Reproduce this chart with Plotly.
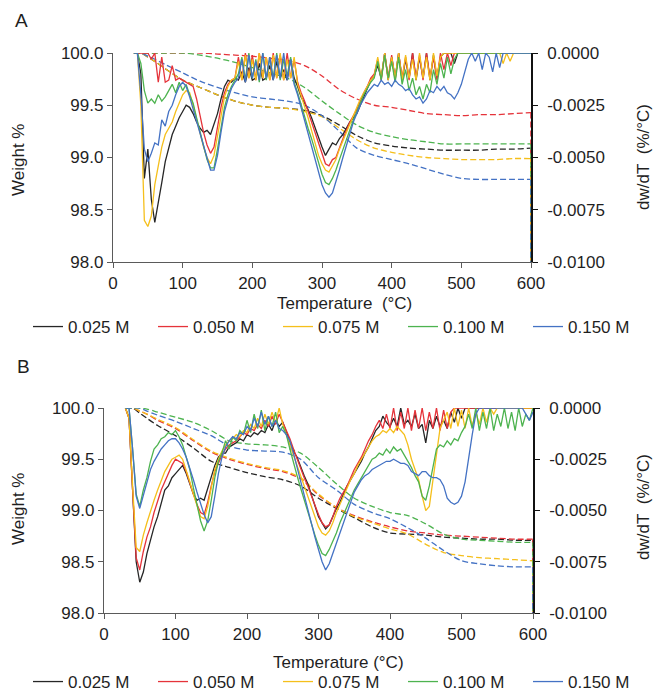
import numpy as np
import plotly.graph_objects as go

# ---------------- data ----------------
LABELS = ["0.025 M", "0.050 M", "0.075 M", "0.100 M", "0.150 M"]
COLORS = ["#262626", "#e5333a", "#f5bf1b", "#4db34f", "#4472c4"]

# temperature grid for derivative curves (°C)
T_DTG = list(range(30, 601, 5))
# temperature grid for weight curves (°C)
T_W = [30, 40, 50, 60, 75, 100, 125, 150, 175, 200, 225, 250, 275, 300, 325,
       350, 375, 400, 425, 450, 475, 500, 525, 550, 575, 600]
T_END = 600          # end of run: weight trace falls off scale
W_END = 97.0

# ---- Panel A: dw/dT in 1e-3 %/°C ----
DTG_A_025 = [0, 0, -1.0, -6.0, -4.6, -7.0, -8.1, -7.2, -6.2, -5.2,
             -4.6, -3.9, -3.5, -3.1, -2.8, -2.5, -2.6, -2.9, -3.3, -3.6,
             -3.8, -3.7, -3.9, -3.4, -2.9, -2.2, -1.6, -1.3, -1.4, -1.2,
             -1.3, -0.9, -1.4, -0.7, -1.3, -1.2, -0.5, -1.3, -1.2, -0.6,
             -1.3, -0.4, -1.2, -0.8, -1.3, -0.3, -1.2, -1.6, -2.1, -2.4,
             -2.7, -3.1, -3.6, -4.0, -4.5, -4.9, -4.6, -4.3, -4.4, -4.1,
             -3.9, -3.6, -3.3, -3.1, -2.9, -2.5, -2.1, -1.7, -1.3, -1.1,
             -0.6, -1.2, 0, -1.3, -0.2, -1.2, 0, -1.3, -0.3, -1.2,
             0, -1.3, -0.2, -1.2, 0, -1.3, -0.1, -1.2, -0.2, 0,
             0, 0, -0.5, 0, 0, 0, 0, 0, 0, 0,
             0, 0, 0, 0, 0, 0, 0, 0, 0, 0,
             0, 0, 0, 0, 0]
DTG_A_050 = [0, 0, 0, 0, 0, -0.3, 0, -1.4, -0.2, -1.4,
             -1.3, -0.6, -1.3, -1.2, -1.3, -1.4, -1.5, -1.6, -2.2, -3.0,
             -3.8, -4.4, -4.8, -4.5, -3.6, -2.6, -1.9, -1.5, -1.3, -1.2,
             -0.2, -1.3, 0, -1.2, -0.1, -1.3, 0, -1.2, -0.2, -1.3,
             0, -1.2, -0.1, -1.3, 0, -1.2, -0.3, -1.4, -1.9, -2.3,
             -2.8, -3.3, -3.8, -4.4, -4.9, -5.3, -5.4, -5.1, -5.0, -4.5,
             -4.1, -3.7, -3.3, -3.0, -2.7, -2.3, -1.9, -1.6, -1.2, -1.0,
             -0.3, -1.3, 0, -1.2, -0.1, -1.3, 0, -1.2, -0.2, -1.3,
             0, -1.2, -0.1, -1.3, 0, -1.2, -0.2, -1.3, 0, -0.8,
             0, -0.6, 0, 0, 0, 0, 0, 0, 0, 0,
             0, 0, 0, 0, 0, 0, 0, 0, 0, 0,
             0, 0, 0, 0, 0]
DTG_A_075 = [0, 0, -2.5, -8.0, -8.3, -7.8, -6.3, -5.4, -4.5, -3.9,
             -3.6, -3.3, -2.8, -2.4, -2.0, -1.8, -1.9, -2.5, -3.2, -3.9,
             -4.5, -5.0, -5.3, -4.9, -3.9, -2.9, -2.1, -1.6, -1.3, -1.2,
             -0.4, -1.3, -0.1, -1.2, -0.3, -1.3, 0, -1.2, -0.2, -1.3,
             -0.1, -1.2, 0, -1.3, -0.3, -1.2, -0.2, -1.5, -2.0, -2.6,
             -3.1, -3.7, -4.3, -4.9, -5.3, -5.6, -5.7, -5.4, -5.1, -4.6,
             -4.2, -3.8, -3.4, -3.0, -2.6, -2.2, -1.9, -1.6, -1.3, -1.1,
             -0.2, -1.2, 0, -1.3, -0.2, -1.2, 0, -1.3, -0.1, -1.2,
             -0.3, -1.3, 0, -1.2, -0.2, -1.3, 0, -1.1, -0.2, 0,
             0, 0, 0, 0, 0, 0, 0, 0, 0, 0,
             0, 0, 0, 0, 0, 0, -0.5, 0, -0.4, 0,
             0, 0, 0, 0, 0]
DTG_A_100 = [0, 0, -0.5, -1.8, -2.4, -2.2, -2.4, -2.0, -2.3, -2.1,
             -1.8, -1.5, -1.9, -1.4, -1.8, -1.5, -2.0, -2.4, -3.1, -3.8,
             -4.5, -5.1, -5.5, -5.5, -4.6, -3.5, -2.6, -2.0, -1.6, -1.3,
             -1.0, -0.2, -1.3, 0, -1.2, -0.3, -1.4, 0, -1.3, -0.2,
             -1.2, 0, -1.3, -0.3, -1.1, -0.2, -1.4, -1.9, -2.5, -3.0,
             -3.6, -4.1, -4.7, -5.3, -5.8, -6.2, -6.3, -6.0, -5.6, -5.1,
             -4.6, -4.1, -3.6, -3.2, -2.8, -2.4, -2.0, -1.7, -1.4, -1.2,
             -0.4, -1.3, -0.1, -1.2, -0.4, -1.4, -0.2, -1.5, -0.8, -1.8,
             -1.2, -2.0, -1.6, -2.2, -1.5, -1.9, -0.8, -1.5, -0.5, -1.2,
             -0.2, -1.0, -0.3, 0, 0, 0, 0, 0, 0, 0,
             0, 0, 0, 0, 0, 0, 0, 0, 0, 0,
             0, 0, 0, 0, 0]
DTG_A_150 = [0, 0, -2.0, -4.6, -5.2, -4.8, -4.3, -4.4, -3.2, -3.5,
             -2.8, -2.5, -2.0, -1.6, -1.4, -1.6, -2.1, -2.7, -3.3, -3.9,
             -4.5, -5.1, -5.6, -5.6, -4.9, -3.8, -2.8, -2.2, -1.7, -1.4,
             -1.2, -0.3, -1.4, -0.1, -1.2, -0.4, -1.3, 0, -1.2, -0.2,
             -1.3, -0.1, -1.2, 0, -1.3, -0.3, -1.5, -2.0, -2.6, -3.2,
             -3.8, -4.5, -5.1, -5.7, -6.3, -6.7, -6.9, -6.7, -6.2, -5.6,
             -5.0, -4.4, -3.8, -3.3, -2.9, -2.5, -2.2, -1.9, -1.7, -1.5,
             -1.6, -1.3, -1.5, -1.4, -1.6, -1.3, -1.5, -1.6, -1.8, -1.7,
             -2.0, -2.2, -2.1, -2.4, -2.2, -1.8, -1.9, -1.6, -1.8, -1.6,
             -1.9, -2.0, -2.2, -1.9, -1.5, -0.9, -0.3, 0, -0.4, 0,
             -0.8, 0, -0.2, -0.9, 0, -0.7, 0, 0, 0, 0,
             0, 0, 0, 0, 0]

# ---- Panel A: weight % ----
W_A_025 = [100, 100, 99.96, 99.92, 99.85, 99.74, 99.67, 99.60, 99.54, 99.50,
           99.48, 99.47, 99.45, 99.40, 99.31, 99.21, 99.14, 99.11, 99.09, 99.08,
           99.07, 99.07, 99.07, 99.08, 99.08, 99.09]
W_A_050 = [100, 100, 100, 100, 100, 100, 100, 99.99, 99.98, 99.97,
           99.95, 99.93, 99.88, 99.78, 99.65, 99.56, 99.50, 99.48, 99.45, 99.42,
           99.41, 99.40, 99.41, 99.41, 99.42, 99.43]
W_A_075 = [100, 100, 99.96, 99.92, 99.85, 99.74, 99.67, 99.60, 99.54, 99.50,
           99.48, 99.47, 99.44, 99.39, 99.28, 99.17, 99.09, 99.05, 99.02, 99.00,
           98.99, 98.98, 98.98, 98.98, 98.99, 98.99]
W_A_100 = [100, 100, 100, 100, 100, 100, 99.98, 99.95, 99.91, 99.86,
           99.81, 99.76, 99.67, 99.54, 99.42, 99.31, 99.24, 99.20, 99.17, 99.15,
           99.13, 99.13, 99.13, 99.13, 99.13, 99.13]
W_A_150 = [100, 100, 99.97, 99.94, 99.89, 99.81, 99.73, 99.67, 99.62, 99.58,
           99.56, 99.54, 99.50, 99.40, 99.25, 99.09, 99.02, 98.98, 98.94, 98.89,
           98.84, 98.80, 98.79, 98.79, 98.79, 98.79]

# ---- Panel B: dw/dT in 1e-3 %/°C ----
DTG_B_025 = [0, -0.5, -4.0, -7.5, -8.5, -8.0, -7.1, -6.4, -5.8, -5.3,
             -4.6, -4.0, -3.8, -3.4, -3.2, -3.0, -2.8, -3.2, -3.7, -4.2,
             -4.5, -4.4, -4.5, -3.9, -3.3, -2.8, -2.4, -2.2, -2.2, -1.9,
             -1.8, -1.7, -1.5, -1.6, -1.3, -1.4, -1.2, -1.3, -1.1, -1.2,
             -0.8, -1.1, -0.6, -0.9, -0.7, -1.2, -1.7, -2.1, -2.4, -2.9,
             -3.3, -3.7, -4.2, -4.7, -5.3, -5.6, -5.9, -5.7, -5.3, -4.9,
             -4.6, -4.2, -3.8, -3.5, -3.2, -2.9, -2.6, -2.2, -1.9, -1.5,
             -1.1, -0.9, -0.4, -0.7, -0.9, -0.5, -0.9, 0, -0.8, -0.6,
             -0.9, -0.3, -1.0, -0.8, -1.7, -0.6, -1.0, -0.4, -0.9, -0.6,
             -1.0, -0.2, -0.7, 0, -0.5, 0, 0, 0, 0, 0,
             0, 0, 0, 0, 0, 0, 0, 0, 0, 0,
             0, 0, 0, 0, 0]
DTG_B_050 = [0, -0.5, -4.0, -7.3, -7.9, -7.0, -6.3, -5.8, -5.1, -4.5,
             -4.0, -3.6, -3.2, -2.8, -2.5, -2.6, -2.7, -3.1, -3.7, -4.2,
             -4.7, -5.1, -5.2, -4.6, -3.8, -3.1, -2.7, -2.3, -2.0, -1.8,
             -1.7, -1.6, -1.4, -1.2, -1.3, -1.0, -1.1, -0.8, -1.0, -0.6,
             -0.9, -0.4, -0.8, -0.3, -0.7, -1.1, -1.5, -2.0, -2.5, -3.0,
             -3.4, -3.8, -4.3, -4.8, -5.2, -5.6, -5.8, -5.7, -5.3, -4.8,
             -4.4, -4.1, -3.8, -3.4, -3.0, -2.7, -2.4, -2.0, -1.6, -1.3,
             -0.9, -0.6, -1.0, -0.3, -1.0, 0, -1.1, -0.2, -1.0, 0,
             -1.1, -0.1, -1.0, 0, -1.1, -0.2, -1.0, 0, -1.1, -0.1,
             -1.0, -0.2, 0, 0, 0, 0, 0, 0, 0, 0,
             0, 0, 0, 0, 0, 0, 0, 0, 0, 0,
             0, 0, 0, 0, 0]
DTG_B_075 = [0, -0.5, -3.8, -6.8, -7.0, -6.2, -5.6, -5.0, -4.5, -4.0,
             -3.5, -3.1, -2.8, -2.5, -2.4, -2.3, -2.5, -3.0, -3.6, -4.2,
             -4.8, -5.3, -5.4, -4.8, -3.9, -3.0, -2.5, -2.1, -1.8, -1.6,
             -1.5, -1.3, -1.4, -1.1, -1.2, -0.8, -1.0, -0.5, -0.9, -0.3,
             -0.8, -0.2, -0.7, 0, -0.8, -1.3, -1.8, -2.4, -2.9, -3.4,
             -3.9, -4.4, -4.9, -5.4, -5.8, -6.1, -6.2, -6.0, -5.6, -5.1,
             -4.7, -4.3, -3.9, -3.5, -3.2, -2.8, -2.5, -2.2, -1.9, -1.6,
             -1.4, -1.3, -1.1, -1.2, -1.0, -1.2, -0.9, -1.1, -1.3, -1.8,
             -2.5, -3.0, -3.5, -4.3, -5.0, -4.8, -3.6, -2.3, -1.0, -0.6,
             -0.2, -1.0, 0, -0.9, -0.1, -1.0, 0, -0.9, -0.2, -0.8,
             0, -0.7, 0, -0.3, 0, 0, 0, 0, 0, 0,
             0, 0, 0, 0, 0]
DTG_B_100 = [0, 0, -2.0, -4.2, -4.8, -4.0, -3.4, -2.6, -2.0, -1.8,
             -1.5, -1.4, -1.2, -1.3, -1.1, -1.4, -1.8, -2.4, -3.0, -3.9,
             -4.7, -5.5, -6.0, -5.5, -4.5, -3.4, -2.6, -2.2, -1.6, -2.0,
             -1.4, -1.6, -1.1, -1.3, -0.6, -1.2, -0.3, -1.0, -0.1, -1.1,
             -0.4, -0.9, -0.2, -1.2, -0.9, -1.3, -2.0, -2.7, -3.3, -3.9,
             -4.5, -5.0, -5.6, -6.2, -6.7, -7.1, -7.2, -6.9, -6.5, -6.1,
             -5.6, -5.2, -4.8, -4.4, -4.0, -3.7, -3.4, -3.1, -2.8, -2.5,
             -2.4, -2.2, -2.3, -2.0, -2.2, -1.9, -2.1, -2.0, -2.3, -2.6,
             -2.9, -3.3, -3.6, -4.3, -4.5, -3.8, -2.8, -2.0, -1.8, -1.9,
             -1.6, -1.8, -1.5, -1.6, -1.2, -0.9, -0.3, -1.0, 0, -1.1,
             -0.2, -1.0, 0, -1.1, -0.3, -0.9, 0, -1.0, -0.2, -1.1,
             0, -0.9, -0.3, -0.6, 0]
DTG_B_150 = [0, 0, -2.0, -4.3, -4.9, -4.3, -3.6, -3.0, -2.6, -2.3,
             -2.0, -1.8, -1.6, -1.5, -1.5, -1.7, -2.0, -2.4, -2.9, -3.5,
             -4.1, -4.7, -5.2, -5.6, -5.3, -4.3, -3.2, -2.4, -1.9, -1.6,
             -1.4, -1.5, -1.2, -1.3, -0.9, -1.1, -0.5, -0.9, -0.2, -0.8,
             -0.4, -0.9, -0.6, -1.0, -1.1, -1.3, -1.6, -2.2, -2.9, -3.6,
             -4.3, -5.0, -5.6, -6.3, -6.9, -7.5, -7.9, -7.6, -7.1, -6.6,
             -6.0, -5.5, -5.0, -4.5, -4.1, -3.8, -3.5, -3.3, -3.2, -3.0,
             -2.9, -2.8, -2.7, -2.6, -2.6, -2.5, -2.6, -2.7, -2.7, -2.8,
             -3.1, -3.2, -3.3, -3.1, -3.1, -3.3, -3.4, -3.4, -3.5, -3.8,
             -4.4, -4.6, -4.7, -4.6, -4.3, -3.6, -2.4, -1.3, -0.3, 0,
             0, 0, 0, 0, 0, 0, 0, 0, 0, 0,
             0, 0, -0.3, -0.6, -0.2]

# ---- Panel B: weight % ----
W_B_025 = [100, 100, 99.95, 99.90, 99.83, 99.73, 99.61, 99.48, 99.42, 99.37,
           99.33, 99.30, 99.24, 99.12, 99.02, 98.93, 98.84, 98.78, 98.77, 98.76,
           98.74, 98.73, 98.72, 98.72, 98.71, 98.71]
W_B_050 = [100, 100, 99.97, 99.94, 99.88, 99.80, 99.68, 99.57, 99.50, 99.45,
           99.41, 99.38, 99.31, 99.15, 99.03, 98.95, 98.89, 98.84, 98.80, 98.78,
           98.76, 98.75, 98.74, 98.73, 98.72, 98.72]
W_B_075 = [100, 100, 99.97, 99.94, 99.89, 99.81, 99.69, 99.58, 99.51, 99.46,
           99.42, 99.39, 99.32, 99.16, 99.03, 98.94, 98.88, 98.82, 98.77, 98.67,
           98.59, 98.56, 98.54, 98.53, 98.52, 98.51]
W_B_100 = [100, 100, 100, 99.99, 99.96, 99.91, 99.86, 99.78, 99.68, 99.65,
           99.64, 99.62, 99.56, 99.42, 99.26, 99.12, 99.04, 98.98, 98.95, 98.87,
           98.77, 98.72, 98.71, 98.70, 98.69, 98.69]
W_B_150 = [100, 100, 100, 99.97, 99.93, 99.87, 99.80, 99.73, 99.63, 99.59,
           99.58, 99.57, 99.50, 99.32, 99.20, 99.06, 98.98, 98.92, 98.83, 98.73,
           98.61, 98.51, 98.48, 98.46, 98.45, 98.45]

X_TICKS = [0, 100, 200, 300, 400, 500, 600]
W_TICKS = [98.0, 98.5, 99.0, 99.5, 100.0]
D_TICKS = [0.0, -0.0025, -0.005, -0.0075, -0.01]
D_TICKTEXT = ["0.0000", "-0.0025", "-0.0050", "-0.0075", "-0.0100"]

PANELS = [
    dict(dtg=[DTG_A_025, DTG_A_050, DTG_A_075, DTG_A_100, DTG_A_150],
         w=[W_A_025, W_A_050, W_A_075, W_A_100, W_A_150]),
    dict(dtg=[DTG_B_025, DTG_B_050, DTG_B_075, DTG_B_100, DTG_B_150],
         w=[W_B_025, W_B_050, W_B_075, W_B_100, W_B_150]),
]

# ---------------- figure ----------------
W, H = 654, 695
FONT = "Liberation Sans, Arial, Helvetica, sans-serif"
TXT = "#1f1f1f"
AX = "#5a5a5a"


def px(x):      # page x (px) -> paper fraction
    return x / W


def py(y):      # page y (px, from top) -> paper fraction
    return 1 - y / H


fig = go.Figure()

axis_ids = [("x", "y", "y2", "legend"), ("x2", "y3", "y4", "legend2")]
for p, (xa, yl, yr, lg) in zip(PANELS, axis_ids):
    # weight curves (dashed, left axis)
    for lab, col, wv in zip(LABELS, COLORS, p["w"]):
        fig.add_trace(go.Scatter(x=T_W, y=wv, mode="lines", xaxis=xa, yaxis=yl,
                                 line=dict(color=col, width=1.3, dash="6px,3px",
                                           shape="spline", smoothing=0.8),
                                 showlegend=False, hoverinfo="skip"))
    for lab, col, wv in zip(LABELS, COLORS, p["w"]):
        fig.add_trace(go.Scatter(x=[T_END, T_END], y=[wv[-1], W_END], mode="lines",
                                 xaxis=xa, yaxis=yl,
                                 line=dict(color=col, width=1.6, dash="6px,3px"),
                                 showlegend=False, hoverinfo="skip"))
    # derivative curves (solid, right axis)
    for lab, col, dv in zip(LABELS, COLORS, p["dtg"]):
        fig.add_trace(go.Scatter(x=T_DTG, y=np.array(dv) * 1e-3, mode="lines",
                                 xaxis=xa, yaxis=yr, name=lab, legend=lg,
                                 line=dict(color=col, width=1.3)))

tickfont = dict(family=FONT, size=17, color=TXT)
common_x = dict(range=[0, 600], tickvals=X_TICKS, ticks="outside", ticklen=5,
                tickcolor=AX, showline=True, linecolor=AX, linewidth=1.3,
                showgrid=False, zeroline=False, tickfont=tickfont, fixedrange=True)
common_yl = dict(range=[98, 100], tickvals=W_TICKS, tickformat=".1f", ticks="outside",
                 ticklen=5, tickcolor=AX, showline=True, linecolor=AX, linewidth=1.3,
                 showgrid=False, zeroline=False, tickfont=tickfont)
common_yr = dict(range=[-0.01, 0], tickvals=D_TICKS, ticktext=D_TICKTEXT, side="right",
                 ticks="outside", ticklen=5, tickcolor="#111", showline=True,
                 linecolor="#111", linewidth=1.6, showgrid=False, zeroline=False,
                 tickfont=tickfont, ticklabelstandoff=6, layer="below traces")
top_x = dict(range=[0, 600], side="top", showline=True, linewidth=1.5,
             showticklabels=False, ticks="", showgrid=False, zeroline=False)
legend_common = dict(orientation="h", x=px(28), xanchor="left",
                     font=dict(family=FONT, size=17, color=TXT), entrywidth=80,
                     entrywidthmode="pixels", bgcolor="rgba(0,0,0,0)", tracegroupgap=0)

fig.update_layout(
    width=W, height=H, autosize=False,
    margin=dict(l=0, r=0, t=0, b=0, pad=0, autoexpand=False),
    paper_bgcolor="white", plot_bgcolor="white",
    font=dict(family=FONT, size=17, color=TXT),
    xaxis=dict(domain=[px(113), px(531)], anchor="y", **common_x),
    yaxis=dict(domain=[py(262), py(53)], anchor="x", **common_yl),
    yaxis2=dict(overlaying="y", anchor="x", **common_yr),
    xaxis3=dict(overlaying="x", anchor="y", linecolor="#66bb6a", **top_x),
    xaxis2=dict(domain=[px(104), px(533)], anchor="y3", **common_x),
    yaxis3=dict(domain=[py(613), py(408)], anchor="x2", **common_yl),
    yaxis4=dict(overlaying="y3", anchor="x2", **common_yr),
    xaxis4=dict(overlaying="x2", anchor="y3", linecolor="#6fa3c4", **top_x),
    legend=dict(y=py(327), yanchor="middle", **legend_common),
    legend2=dict(y=py(682), yanchor="middle", **legend_common),
)

ann = []


def add_text(text, x, y, size=17, angle=0):
    ann.append(dict(text=text, x=px(x), y=py(y), xref="paper", yref="paper",
                    showarrow=False, textangle=angle, xanchor="center", yanchor="middle",
                    font=dict(family=FONT, size=size, color=TXT)))


add_text("A", 22, 21, size=19)
add_text("B", 23, 366, size=19)
add_text("Weight %", 18, 160, angle=-90)
add_text("Weight %", 18, 509, angle=-90)
add_text("dw/dT\u00a0\u00a0(%/°C)", 644, 157, angle=-90)
add_text("dw/dT\u00a0\u00a0(%/°C)", 644, 507, angle=-90)
add_text("Temperature\u00a0\u00a0(°C)", 344, 303)
add_text("Temperature (°C)", 338, 662)
fig.update_layout(annotations=ann)

fig.write_html(
    "out.html",
    config=dict(displayModeBar=False),
    post_script=("document.documentElement.style.overflow='hidden';"
                 "document.body.style.margin='0';document.body.style.overflow='hidden';"),
)
